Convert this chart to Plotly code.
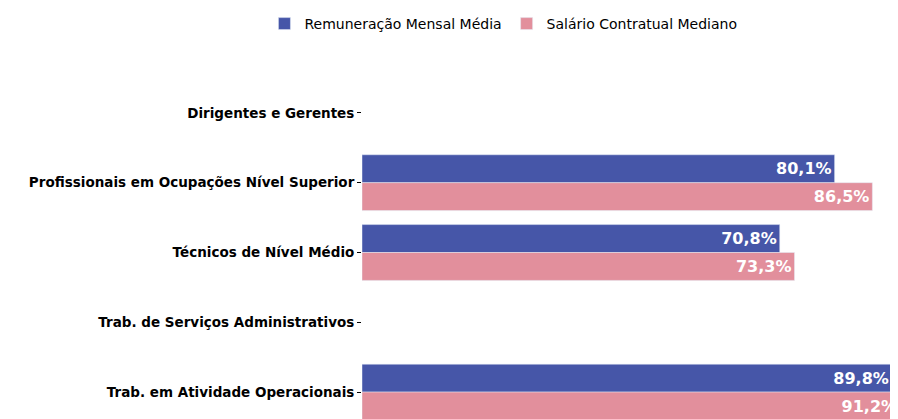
import plotly.graph_objects as go

categorias = ["Dirigentes e Gerentes", "Profissionais em Ocupações Nível Superior",
              "Técnicos de Nível Médio", "Trab. de Serviços Administrativos",
              "Trab. em Atividade Operacionais"]
remuneracao = [None, 80.1, 70.8, None, 89.8]
salario = [None, 86.5, 73.3, None, 91.2]

def rotulo(v):
    return "" if v is None else f"{v:.1f}%".replace(".", ",")

fig = go.Figure()
fig.add_trace(go.Bar(y=categorias, x=remuneracao, orientation="h", name="Remuneração Mensal Média",
                     marker_color="#4656a8", text=[rotulo(v) for v in remuneracao],
                     textposition="inside", insidetextanchor="end",
                     textfont=dict(color="white", size=16, family="DejaVu Sans", weight="bold")))
fig.add_trace(go.Bar(y=categorias, x=salario, orientation="h", name="Salário Contratual Mediano",
                     marker_color="#e28f9c", text=[rotulo(v) for v in salario],
                     textposition="inside", insidetextanchor="end",
                     textfont=dict(color="white", size=16, family="DejaVu Sans", weight="bold")))

fig.update_layout(
    width=898, height=419, barmode="group", bargap=0.2, bargroupgap=0,
    plot_bgcolor="white", paper_bgcolor="white",
    margin=dict(l=354, r=0, t=44, b=0),
    font=dict(family="DejaVu Sans", color="black"),
    legend=dict(orientation="h", x=0.26, xanchor="center", y=1.11, yanchor="bottom",
                traceorder="normal", font=dict(size=14)),
    uniformtext=dict(mode="show", minsize=10),
)
fig.update_xaxes(visible=False, range=[0, 92.2])
fig.update_yaxes(autorange="reversed", ticks="outside", ticklen=4, tickcolor="black",
                 automargin=False,
                 tickfont=dict(size=13.5, family="DejaVu Sans", weight="bold"),
                 showline=False, showgrid=False)
fig.write_html("out.html")
